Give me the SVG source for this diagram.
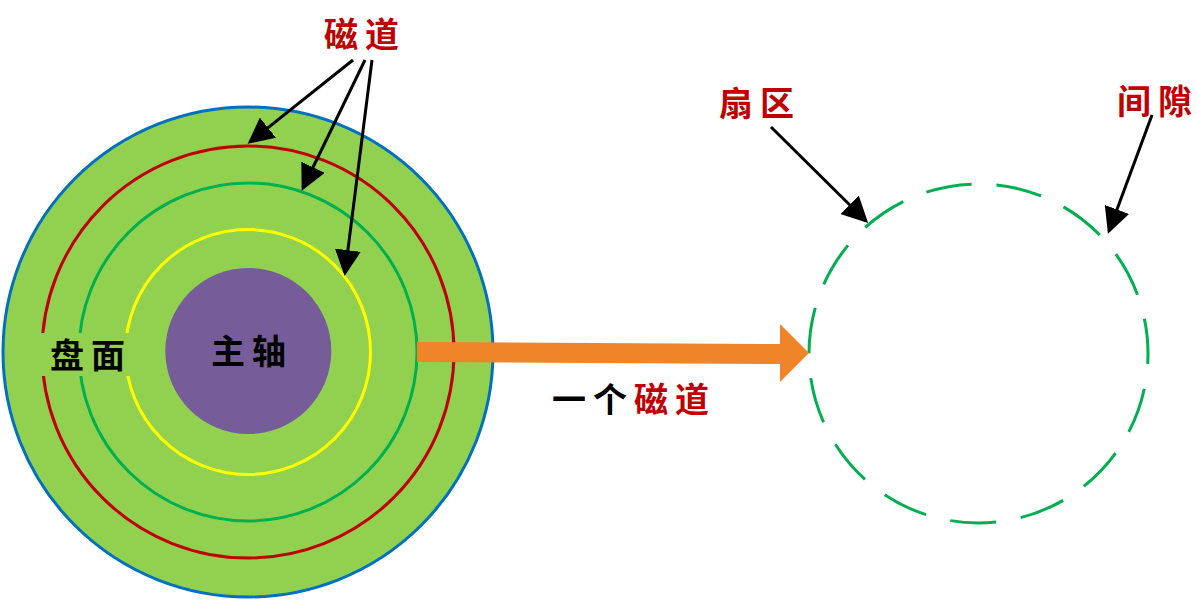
<svg xmlns="http://www.w3.org/2000/svg" width="1197" height="600" viewBox="0 0 1197 600">
<style>
.lbl{font-family:"Noto Sans CJK SC","Noto Sans",sans-serif;font-weight:bold;font-size:34px;text-anchor:middle;letter-spacing:7px}
.red{fill:#C00000}
.blk{fill:#000}
.ring{fill:none;stroke-width:3}
.conn{stroke:#000;stroke-width:3;fill:none;marker-end:url(#ah)}
</style>
<defs>
<marker id="ah" markerUnits="userSpaceOnUse" markerWidth="26" markerHeight="26" refX="23" refY="13" orient="auto" viewBox="0 0 26 26">
<path d="M0,0 L26,13 L0,26 z" fill="#000"/>
</marker>
</defs>
<rect width="1197" height="600" fill="#fff"/>
<g id="disk">
<circle cx="248" cy="352" r="245" fill="#92D050" stroke="#0070C0" stroke-width="3"/>
<circle class="ring" cx="248" cy="352" r="206" stroke="#C00000"/>
<circle class="ring" cx="248" cy="352" r="169" stroke="#00B050"/>
<circle class="ring" cx="248" cy="352" r="122.5" stroke="#FFFF00"/>
</g>
<g id="spindle">
<circle cx="248.3" cy="351" r="83" fill="#765C98"/>
<text class="lbl blk" x="252" y="364">主轴</text>
</g>
<g id="platter-label">
<rect x="36" y="333" width="97" height="43" fill="#92D050"/>
<text class="lbl blk" x="91" y="368">盘面</text>
</g>
<g id="track-label">
<text class="lbl red" x="365" y="47">磁道</text>
</g>
<g id="one-track">
<circle cx="978.5" cy="353.5" r="169.5" fill="none" stroke="#00B050" stroke-width="3" stroke-dasharray="46 25" stroke-dashoffset="35.5"/>
</g>
<g id="sector-label">
<text class="lbl red" x="760" y="116">扇区</text>
</g>
<g id="gap-label">
<text class="lbl red" x="1158" y="114">间隙</text>
</g>
<g id="one-track-label">
<text class="lbl" x="634" y="412"><tspan class="blk">一个</tspan><tspan class="red">磁道</tspan></text>
</g>
<g id="connectors">
<line class="conn" x1="353" y1="60" x2="250" y2="142"/>
<line class="conn" x1="365" y1="60" x2="303" y2="188"/>
<line class="conn" x1="372" y1="60" x2="345" y2="273"/>
<line class="conn" x1="771" y1="127" x2="866" y2="221"/>
<line class="conn" x1="1152" y1="115" x2="1109" y2="231"/>
<polygon points="417,342 780,344 780,324 809,353 780,382 780,364 417,362" fill="#EF8429"/>
</g>
</svg>
